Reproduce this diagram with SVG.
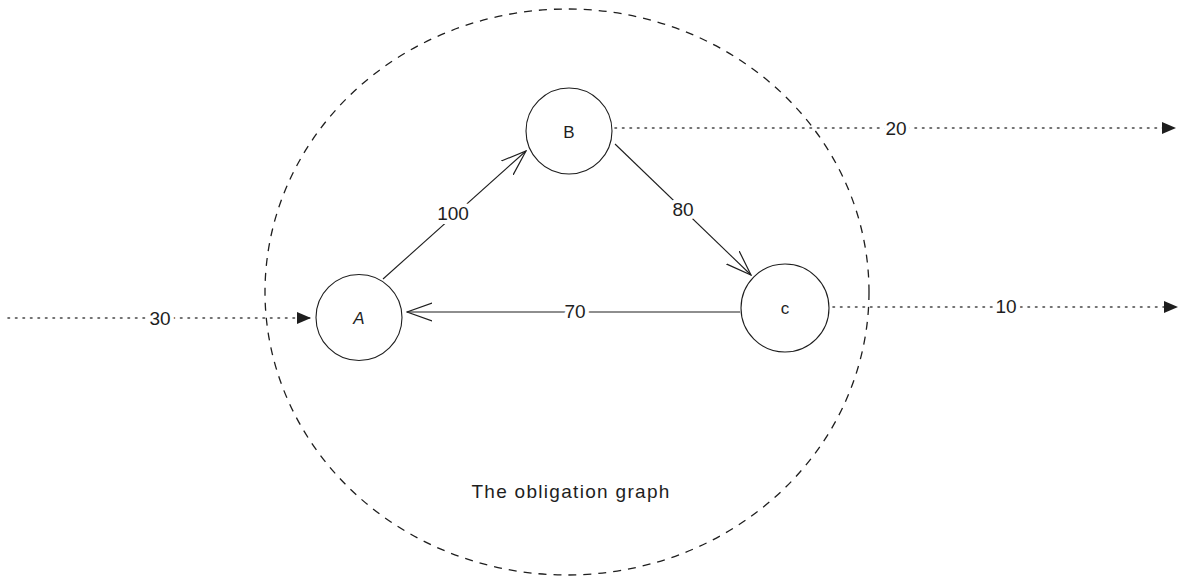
<svg xmlns="http://www.w3.org/2000/svg" width="1187" height="582" viewBox="0 0 1187 582">
<style>
.node{fill:#fff;stroke:#1e1e1e;stroke-width:1.1}
.nlabel{font-family:"Liberation Sans",sans-serif;font-size:17px;fill:#1e1e1e;text-anchor:middle;dominant-baseline:central}
.edge{fill:none;stroke:#1e1e1e;stroke-width:1.1}
.dot{fill:none;stroke:#444;stroke-width:1.6;stroke-dasharray:1.5 6;stroke-linecap:round}
.elabel{font-family:"Liberation Sans",sans-serif;font-size:19px;fill:#1e1e1e;text-anchor:middle;dominant-baseline:central;stroke:#fff;stroke-width:8;paint-order:stroke;stroke-linejoin:round}
</style>
<defs>
<marker id="tri" viewBox="0 0 14 12" refX="13" refY="6" markerWidth="14" markerHeight="12" markerUnits="userSpaceOnUse" orient="auto">
<path d="M0,0 L14,6 L0,12 Z" fill="#1e1e1e"/>
</marker>
<marker id="open" viewBox="0 0 26 20" refX="25" refY="10" markerWidth="26" markerHeight="20" markerUnits="userSpaceOnUse" orient="auto">
<path d="M0,1 L25,10 L0,19" fill="none" stroke="#1e1e1e" stroke-width="1.2" stroke-linecap="round"/>
</marker>
</defs>
<rect width="1187" height="582" fill="#fff"/>
<g id="boundary">
<ellipse cx="567" cy="292" rx="302" ry="283" fill="none" stroke="#1e1e1e" stroke-width="1.3" stroke-dasharray="8 7"/>
<text x="571" y="491" font-family="Liberation Sans, sans-serif" font-size="19" letter-spacing="1.3" fill="#1e1e1e" text-anchor="middle" dominant-baseline="central">The obligation graph</text>
</g>
<g id="connectors">
<line class="edge" x1="383" y1="279" x2="526" y2="151" marker-end="url(#open)"/>
<text class="elabel" x="453" y="213">100</text>
<line class="edge" x1="615" y1="144" x2="751" y2="275" marker-end="url(#open)"/>
<text class="elabel" x="683" y="209">80</text>
<line class="edge" x1="740" y1="312" x2="407" y2="312" marker-end="url(#open)"/>
<text class="elabel" x="575" y="311">70</text>
<line class="dot" x1="8" y1="318" x2="310" y2="318" marker-end="url(#tri)"/>
<text class="elabel" x="160" y="318">30</text>
<line class="dot" x1="615" y1="128" x2="1175" y2="128" marker-end="url(#tri)"/>
<text class="elabel" x="896" y="128">20</text>
<line class="dot" x1="833" y1="307" x2="1177" y2="307" marker-end="url(#tri)"/>
<text class="elabel" x="1006" y="306">10</text>
</g>
<g id="node-A">
<circle class="node" cx="359" cy="317.5" r="43"/>
<text class="nlabel" x="359" y="318" font-style="italic">A</text>
</g>
<g id="node-B">
<circle class="node" cx="569" cy="131" r="43"/>
<text class="nlabel" x="569" y="132">B</text>
</g>
<g id="node-C">
<circle class="node" cx="785" cy="308" r="44"/>
<text class="nlabel" x="785" y="308">c</text>
</g>
</svg>
